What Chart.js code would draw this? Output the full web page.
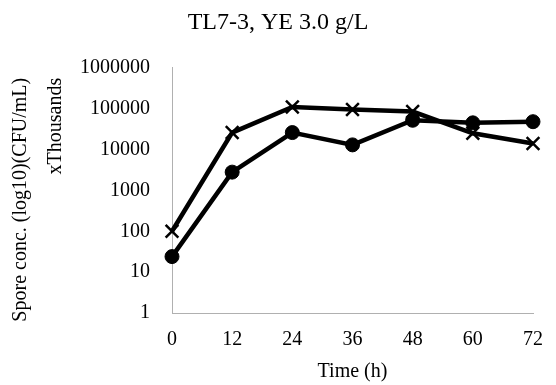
<!DOCTYPE html>
<html>
<head>
<meta charset="utf-8">
<script src="https://cdn.jsdelivr.net/npm/chart.js@4"></script>
<style>
  body { margin: 0; background: #fff; }
  canvas { display: block; }
</style>
</head>
<body>
<canvas id="myChart" width="556" height="385"></canvas>
<script>
// -- DATA ---------------//
const Hours = [0, 12, 24, 36, 48, 60, 72];
const CrossSeries = [100, 26000, 110000, 95000, 85000, 25000, 14000];
const DotSeries = [24, 2800, 26000, 13000, 52000, 45000, 48000];
const YTicks = [1, 10, 100, 1000, 10000, 100000, 1000000];
const XTicks = [0, 12, 24, 36, 48, 60, 72];

const serif = "'Liberation Serif', 'Times New Roman', serif";
Chart.defaults.color = '#000';
Chart.defaults.font.family = serif;

const ctx = document.getElementById('myChart').getContext('2d');

const myChart = new Chart(ctx, {
	type: 'line',
	data: {
		datasets: [
			{
				label: 'x',
				data: Hours.map((h, i) => ({ x: h, y: CrossSeries[i] })),
				borderColor: '#000',
				backgroundColor: '#000',
				borderWidth: 4.5,
				pointStyle: 'crossRot',
				pointRadius: 9,
				pointBorderWidth: 2.5,
				clip: false,
			},
			{
				label: 'dot',
				data: Hours.map((h, i) => ({ x: h, y: DotSeries[i] })),
				borderColor: '#000',
				backgroundColor: '#000',
				borderWidth: 4.5,
				pointStyle: 'circle',
				pointRadius: 7,
				pointBorderWidth: 1,
				clip: false,
			},
		],
	},
	options: {
		responsive: false,
		maintainAspectRatio: false,
		animation: false,
		layout: {
			padding: 0
		},
		plugins: {
			title: {
				display: true,
				text: 'TL7-3, YE 3.0 g/L',
				font: { size: 24, weight: 'normal', lineHeight: 1.2 },
				padding: { top: 8, bottom: 31 },
			},
			legend: { display: false },
			tooltip: { enabled: false },
		},
		scales: {
			x: {
				type: 'linear',
				min: 0,
				max: 72,
				afterBuildTicks: (scale) => { scale.ticks = XTicks.map(v => ({ value: v })); },
				afterFit: (scale) => { scale.height = 72; scale.paddingRight = 23; },
				grid: { display: false, drawTicks: false },
				border: { display: true, color: '#b0b0b0', width: 1, dash: [2, 2] },
				ticks: {
					padding: 15,
					maxRotation: 0,
					font: { size: 20 },
					callback: (v) => String(v),
				},
				title: {
					display: true,
					text: 'Time (h)',
					font: { size: 20 },
					padding: { top: 8, bottom: 1 },
				},
			},
			y: {
				type: 'logarithmic',
				min: 1,
				max: 1000000,
				afterBuildTicks: (scale) => { scale.ticks = YTicks.map(v => ({ value: v })); },
				afterFit: (scale) => { scale.width = 172; },
				grid: { display: false, drawTicks: false },
				border: { display: true, color: '#b0b0b0', width: 1, dash: [2, 2] },
				ticks: {
					padding: 22,
					font: { size: 20 },
					callback: (v) => String(v),
				},
				title: {
					display: true,
					align: 'end',
					// trailing spaces nudge the top-aligned lines down a little
					text: ['Spore conc. (log10)(CFU/mL)  ', 'xThousands  '],
					font: { size: 20, lineHeight: 1.75 },
					padding: { top: 3, bottom: 7 },
				},
			},
		},
	}
});
</script>
</body>
</html>
